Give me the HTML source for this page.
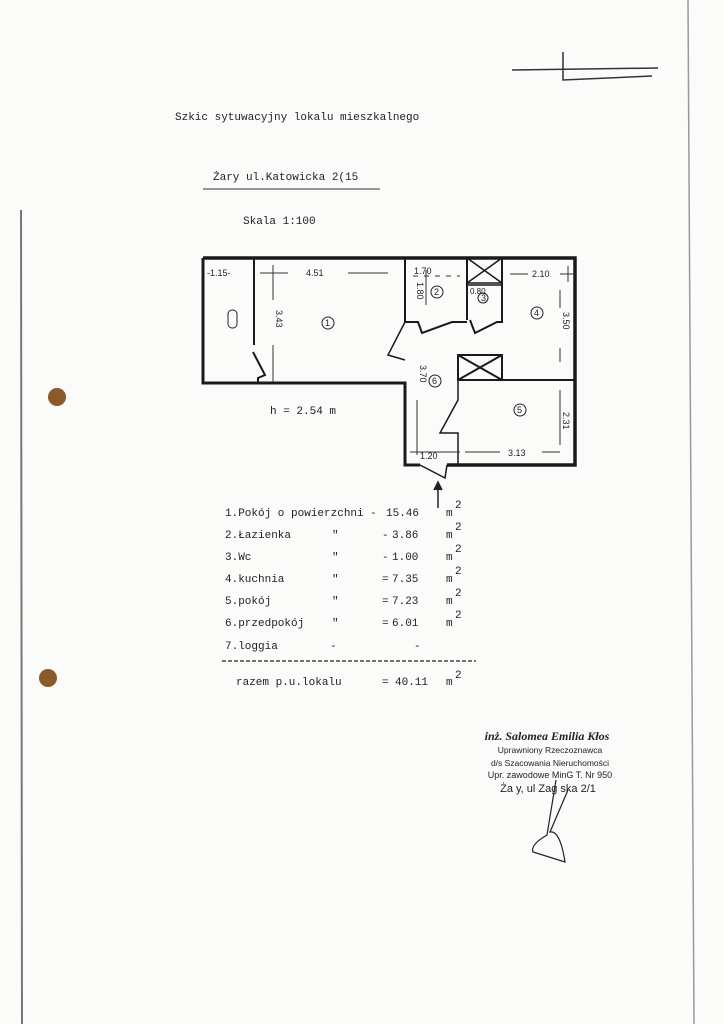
<!DOCTYPE html>
<html><head><meta charset="utf-8"><style>
body{margin:0;background:#fff}
svg{display:block}
.m{font-family:"Liberation Mono",monospace;font-size:11px;fill:#222}
.s{font-family:"Liberation Sans",sans-serif;fill:#222}
</style></head><body>
<svg width="724" height="1024" viewBox="0 0 724 1024">
<rect width="724" height="1024" fill="#fbfbfa"/>
<line x1="21" y1="210" x2="22" y2="1024" stroke="#777" stroke-width="2"/>
<line x1="688" y1="0" x2="694" y2="1024" stroke="#999" stroke-width="1.5"/>
<circle cx="57" cy="397" r="9" fill="#8a5a2a"/>
<circle cx="48" cy="678" r="9" fill="#8a5a2a"/>
<path d="M512 70 L658 68 M563 52 L563 80 L652 76" stroke="#333" stroke-width="1.5" fill="none"/>
<text x="175" y="120" class="m">Szkic sytuwacyjny lokalu mieszkalnego</text>
<text x="213" y="180" class="m">Żary ul.Katowicka  2(15</text>
<line x1="203" y1="189" x2="380" y2="189" stroke="#333" stroke-width="1"/>
<text x="243" y="224" class="m">Skala 1:100</text>
<g stroke="#1a1a1a" fill="none">
<path d="M203 258 H575 V465 H447" stroke-width="3.5"/>
<path d="M203 258 V383 H405 V465 H420" stroke-width="3"/>
<path d="M254 258 V345 M253 352 L265 375 L258 378 V383" stroke-width="2"/>
<path d="M405 258 V322 H418 L422 333 L452 322 H467 M467 258 V320 M470 320 L475 333 L497 322 H502 V258" stroke-width="2"/>
<path d="M405 322 L388 355 L405 360" stroke-width="1.5"/>
<path d="M458 380 H575 M458 355 H502 V380 H458 Z M458 355 L502 380 M502 355 L458 380" stroke-width="2"/>
<path d="M467 258 H502 V283 H467 Z M467 258 L502 283 M502 258 L467 283 M467 285 H502" stroke-width="1.5"/>
<path d="M458 380 V400 L440 433 L458 433 V465" stroke-width="1.5"/>
<path d="M420 465 L445 478 L447 465" stroke-width="1.5"/>
</g>
<g stroke="#333" stroke-width="1">
<line x1="260" y1="273" x2="288" y2="273"/><line x1="348" y1="273" x2="388" y2="273"/><line x1="273" y1="265" x2="273" y2="300"/><line x1="273" y1="345" x2="273" y2="382"/>
<line x1="426" y1="270" x2="426" y2="305"/><line x1="413" y1="276" x2="460" y2="276" stroke-dasharray="5 6"/>
<line x1="510" y1="274" x2="528" y2="274"/><line x1="568" y1="266" x2="568" y2="282"/><line x1="560" y1="274" x2="575" y2="274"/>
<line x1="560" y1="290" x2="560" y2="308"/><line x1="560" y1="348" x2="560" y2="362"/>
<line x1="417" y1="400" x2="417" y2="455"/>
<line x1="410" y1="452" x2="460" y2="452"/><line x1="465" y1="452" x2="500" y2="452"/><line x1="542" y1="452" x2="560" y2="452"/>
<line x1="560" y1="390" x2="560" y2="445"/>
</g>
<g stroke="#222" stroke-width="1" fill="none">
<rect x="228" y="310" width="9" height="18" rx="4"/>
<circle cx="328" cy="323" r="6"/><circle cx="437" cy="292" r="6"/><circle cx="483" cy="298" r="5"/>
<circle cx="537" cy="313" r="6"/><circle cx="435" cy="381" r="6"/><circle cx="520" cy="410" r="6"/>
</g>
<g class="s" font-size="9">
<text x="325" y="326">1</text><text x="434" y="295">2</text><text x="481" y="301">3</text><text x="534" y="316">4</text><text x="432" y="384">6</text><text x="517" y="413">5</text>
<text x="207" y="276">-1.15-</text>
<text x="306" y="276">4.51</text>
<text x="414" y="274">1.70</text><text x="470" y="294" font-size="8">0.80</text>
<text x="532" y="277">2.10</text>
<text x="420" y="459">1.20</text><text x="508" y="456">3.13</text>
<text transform="translate(276,310) rotate(90)">3.43</text>
<text transform="translate(417,282) rotate(90)">1.80</text>
<text transform="translate(563,312) rotate(90)">3.50</text>
<text transform="translate(420,365) rotate(90)">3.70</text>
<text transform="translate(563,412) rotate(90)">2.31</text>
</g>
<text x="270" y="414" class="m" font-size="10">h = 2.54 m</text>
<path d="M438 508 V484 M434 490 L438 482 L442 490" stroke="#222" stroke-width="1.5" fill="#222"/>
<g class="m" font-size="11">
<text x="225" y="516">1.Pokój o powierzchni</text><text x="370" y="516">-</text><text x="386" y="516">15.46</text><text x="446" y="516">m</text>
<text x="225" y="538">2.Łazienka</text><text x="332" y="538">"</text><text x="382" y="538">-</text><text x="392" y="538">3.86</text><text x="446" y="538">m</text>
<text x="225" y="560">3.Wc</text><text x="332" y="560">"</text><text x="382" y="560">-</text><text x="392" y="560">1.00</text><text x="446" y="560">m</text>
<text x="225" y="582">4.kuchnia</text><text x="332" y="582">"</text><text x="382" y="582">=</text><text x="392" y="582">7.35</text><text x="446" y="582">m</text>
<text x="225" y="604">5.pokój</text><text x="332" y="604">"</text><text x="382" y="604">=</text><text x="392" y="604">7.23</text><text x="446" y="604">m</text>
<text x="225" y="626">6.przedpokój</text><text x="332" y="626">"</text><text x="382" y="626">=</text><text x="392" y="626">6.01</text><text x="446" y="626">m</text>
<text x="225" y="649">7.loggia</text><text x="330" y="649">-</text><text x="414" y="649">-</text>
<text x="236" y="685">razem p.u.lokalu</text><text x="382" y="685">=</text><text x="395" y="685">40.11</text><text x="446" y="685">m</text>
</g>
<line x1="222" y1="661" x2="476" y2="661" stroke="#222" stroke-width="1.2" stroke-dasharray="4 2"/>
<g class="m" font-size="9">
<text x="455" y="508">2</text><text x="455" y="530">2</text><text x="455" y="552">2</text><text x="455" y="574">2</text><text x="455" y="596">2</text><text x="455" y="618">2</text><text x="455" y="678">2</text>
</g>
<g class="s" text-anchor="middle">
<text x="547" y="740" font-family="Liberation Serif" font-style="italic" font-weight="bold" font-size="12">inż. Salomea Emilia Kłos</text>
<text x="550" y="753" font-size="8.5">Uprawniony Rzeczoznawca</text>
<text x="550" y="766" font-size="8.5">d/s Szacowania Nieruchomości</text>
<text x="550" y="778" font-size="9">Upr. zawodowe MinG T. Nr 950</text>
<text x="548" y="792" font-size="11">Ża y, ul Zag  ska 2/1</text>
</g>
<path d="M556 780 L547 835 Q530 845 533 852 L565 862 Q560 830 550 832 L568 790" stroke="#222" stroke-width="1.2" fill="none"/>
</svg>
</body></html>
